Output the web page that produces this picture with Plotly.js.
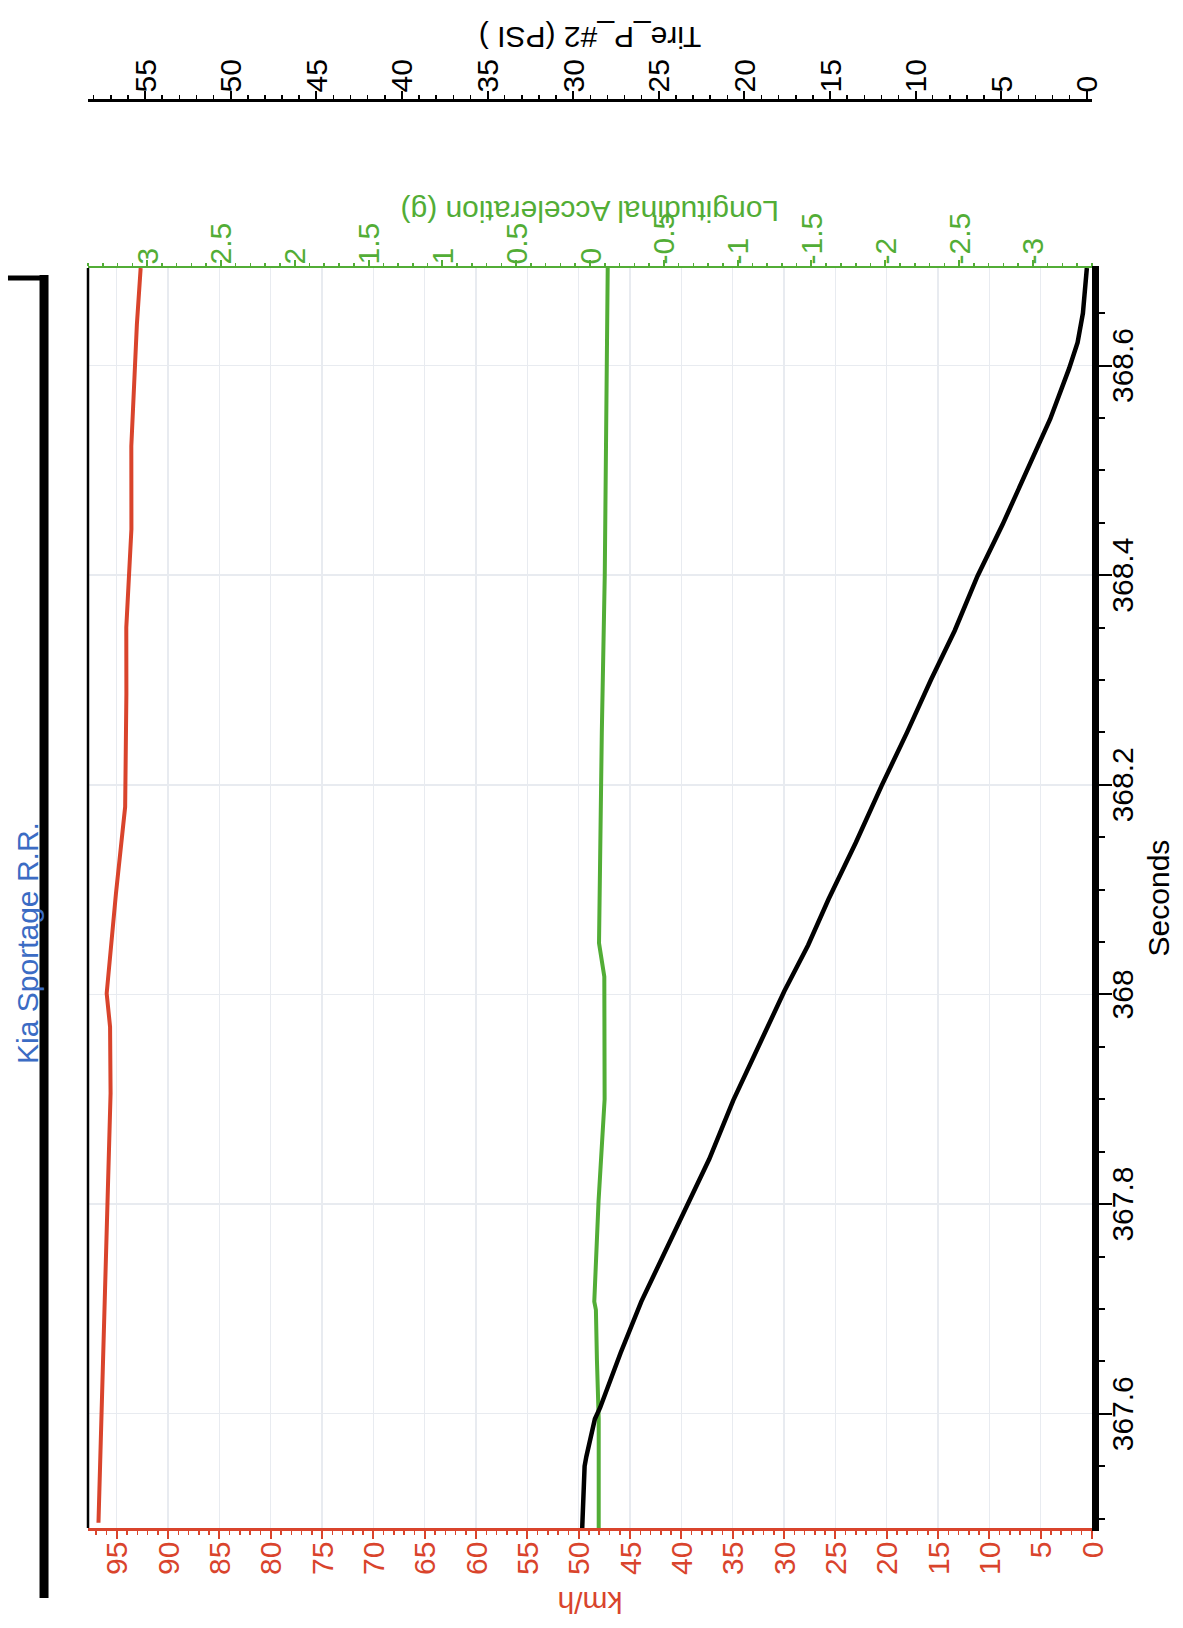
<!DOCTYPE html>
<html>
<head>
<meta charset="utf-8">
<script src="https://cdn.plot.ly/plotly-3.0.1.min.js"></script>
<style>
  html, body { margin: 0; padding: 0; background: #ffffff; overflow: hidden; }
  #page { position: absolute; left: 0; top: 0; width: 1183px; height: 1628px; overflow: hidden; background: #fff; }
  #chart { position: absolute; left: 0; top: 0; width: 1628px; height: 1183px;
           transform-origin: 0 0; transform: translate(0px, 1628px) rotate(-90deg); }
</style>
</head>
<body>
<div id="page"><div id="chart"></div></div>
<script>
// ---- data ----
const chartTitle = "Kia Sportage R.R.";

// Tire pressure #2 (PSI) vs time (s)
const tireTime = [367.491, 367.550, 367.559, 367.595, 367.606, 367.658, 367.707, 367.755, 367.795, 367.843,
                  367.899, 367.947, 368.003, 368.047, 368.091, 368.145, 368.199, 368.250, 368.300, 368.347,
                  368.399, 368.448, 368.495, 368.549, 368.597, 368.622, 368.650, 368.677, 368.693];
const tirePsi  = [29.47, 29.33, 29.23, 28.73, 28.42, 27.23, 26.02, 24.64, 23.44, 22.05,
                  20.65, 19.26, 17.67, 16.28, 15.08, 13.49, 11.99, 10.50, 9.11, 7.72,
                  6.39, 4.93, 3.63, 2.14, 1.04, 0.54, 0.23, 0.11, 0.00];

// Vehicle speed (km/h) vs time (s)
const speedTime = [367.496, 367.639, 367.906, 367.969, 368.001, 368.096, 368.179, 368.287, 368.350, 368.444,
                   368.523, 368.639, 368.693];
const speedKmh  = [96.78, 96.37, 95.60, 95.65, 95.98, 95.08, 94.18, 94.06, 94.07, 93.57,
                   93.58, 93.04, 92.67];

// Longitudinal acceleration (g) vs time (s)
const accTime = [367.491, 367.595, 367.651, 367.699, 367.707, 367.803, 367.900, 368.017, 368.049, 368.117,
                 368.250, 368.400, 368.550, 368.693];
const accG    = [-0.059, -0.059, -0.047, -0.040, -0.029, -0.058, -0.099, -0.097, -0.061, -0.066,
                 -0.08, -0.10, -0.11, -0.12];

// axis tick labels
const gTickVals = [-3, -2.5, -2, -1.5, -1, -0.5, 0, 0.5, 1, 1.5, 2, 2.5, 3];
const gTickText = ["-3", "-2.5", "-2", "-1.5", "-1", "-0.5", "0", "0.5", "1", "1.5", "2", "2.5", "3"];
const gTitle = "Longitudinal Acceleration (g)";

// ---- styling ----
const FONT = "'Liberation Sans', Arial, Helvetica, sans-serif";
const RED = "#d9442c";
const GREEN = "#52ad36";
const BLUE = "#3b6cc4";
const GRID = "#e8ebf0";

const traces = [
  { x: speedTime, y: speedKmh, type: "scatter", mode: "lines", yaxis: "y",
    line: { color: RED, width: 4 }, name: "km/h", hoverinfo: "skip" },
  { x: accTime, y: accG, type: "scatter", mode: "lines", yaxis: "y2",
    line: { color: GREEN, width: 4 }, name: gTitle, hoverinfo: "skip" },
  { x: tireTime, y: tirePsi, type: "scatter", mode: "lines", yaxis: "y3",
    line: { color: "#000000", width: 4.5 }, name: "Tire_P_#2 (PSI )", hoverinfo: "skip" }
];

const layout = {
  width: 1628, height: 1183,
  margin: { l: 100, r: 60, t: 88, b: 91 },
  paper_bgcolor: "#ffffff", plot_bgcolor: "#ffffff",
  showlegend: false,
  font: { family: FONT, size: 30, color: "#000" },
  title: { text: chartTitle, font: { family: FONT, size: 30, color: BLUE },
           xref: "paper", x: 0.3985, xanchor: "center",
           yref: "container", y: 0.977, yanchor: "middle" },
  xaxis: {
    domain: [0, 0.8583],
    range: [367.491, 368.693],
    tick0: 367.6, dtick: 0.2,
    ticks: "outside", ticklen: 13, tickwidth: 2, tickcolor: "#000",
    minor: { dtick: 0.05, ticks: "outside", ticklen: 6, tickwidth: 2, tickcolor: "#000", showgrid: false },
    showline: true, linecolor: "#000", linewidth: 7,
    showgrid: true, gridcolor: GRID, gridwidth: 1.5, zeroline: false,
    ticklabelstandoff: -15,
    tickfont: { family: FONT, size: 30, color: "#000" },
    title: { text: "Seconds", font: { family: FONT, size: 30, color: "#000" }, standoff: 12 }
  },
  yaxis: {
    range: [0, 97.8], tick0: 0, dtick: 5,
    ticks: "outside", ticklen: 8, tickwidth: 2, tickcolor: RED,
    minor: { dtick: 1, ticks: "outside", ticklen: 4, tickwidth: 1.5, tickcolor: RED, showgrid: false },
    showline: true, linecolor: RED, linewidth: 2.5,
    showgrid: true, gridcolor: GRID, gridwidth: 1.5, zeroline: false,
    ticklabelstandoff: -3,
    tickfont: { family: FONT, size: 30, color: RED },
    title: { text: "km/h", font: { family: FONT, size: 30, color: RED }, standoff: 8 }
  },
  yaxis2: {
    overlaying: "y", side: "right", anchor: "x",
    range: [-3.4, 3.4], tickvals: gTickVals, ticktext: gTickText,
    ticks: "outside", ticklen: 6, tickwidth: 2, tickcolor: GREEN,
    minor: { dtick: 0.1, ticks: "outside", ticklen: 3, tickwidth: 1.5, tickcolor: GREEN, showgrid: false },
    showline: true, linecolor: GREEN, linewidth: 2.5,
    showgrid: false, zeroline: false,
    ticklabelstandoff: -11,
    tickfont: { family: FONT, size: 30, color: GREEN }
  },
  yaxis3: {
    overlaying: "y", side: "right", anchor: "free", position: 0.9721,
    range: [-0.3, 58.33], tick0: 0, dtick: 5,
    ticks: "outside", ticklen: 8, tickwidth: 2, tickcolor: "#000",
    minor: { dtick: 1, ticks: "outside", ticklen: 4, tickwidth: 1.5, tickcolor: "#000", showgrid: false },
    showline: true, linecolor: "#000", linewidth: 2.5,
    showgrid: false, zeroline: false,
    ticklabelstandoff: -7,
    tickfont: { family: FONT, size: 30, color: "#000" },
    title: { text: "Tire_P_#2 (PSI )", font: { family: FONT, size: 30, color: "#000" }, standoff: 11 }
  },
  annotations: [
    // title of the acceleration axis (sits over its tick labels, as in the reference)
    { text: gTitle, xref: "paper", yref: "paper", x: 0.8965, y: 0.5, textangle: -90,
      xanchor: "center", yanchor: "middle", showarrow: false,
      font: { family: FONT, size: 30, color: GREEN } }
  ],
  shapes: [
    // thin frame line along the top of the plot area
    { type: "line", xref: "paper", yref: "paper", x0: 0, x1: 0.8583, y0: 1, y1: 1,
      line: { color: "#000", width: 2.5 } },
    // thick bracket above the plot
    { type: "line", xref: "paper", yref: "paper", x0: -0.0477, x1: 0.8535, y0: 1.0438, y1: 1.0438,
      line: { color: "#000", width: 9 } },
    { type: "line", xref: "paper", yref: "paper", x0: 0.8515, x1: 0.8515, y0: 1.0438, y1: 1.0797,
      line: { color: "#000", width: 5 } }
  ]
};

Plotly.newPlot("chart", traces, layout, { staticPlot: true, displayModeBar: false });
</script>
</body>
</html>
